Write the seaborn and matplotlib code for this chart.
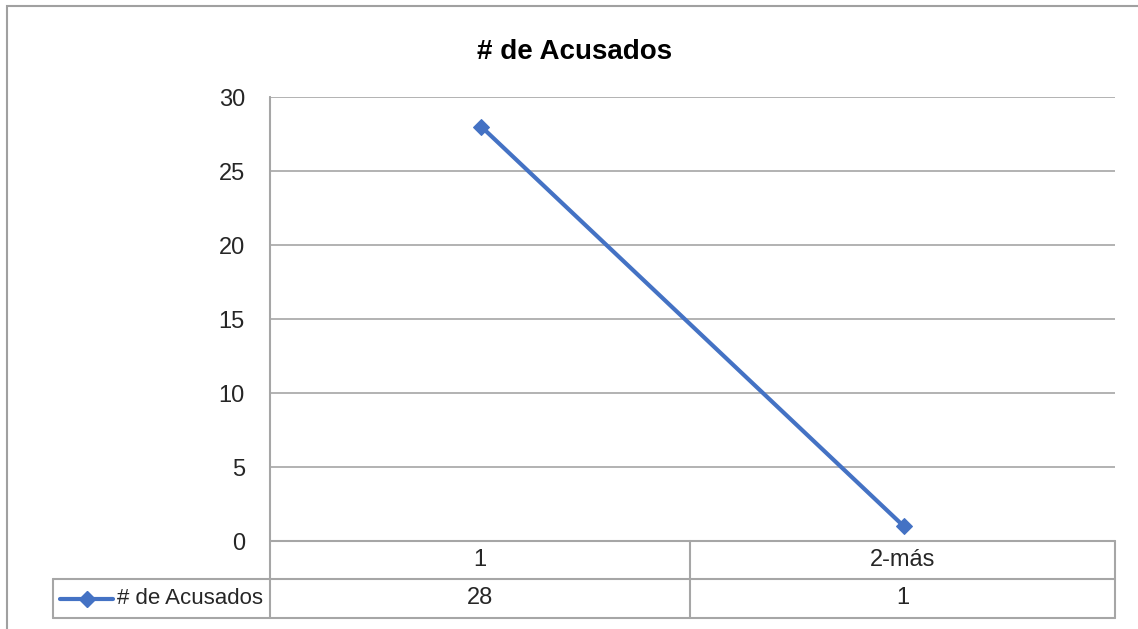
import matplotlib
matplotlib.use("Agg")
import matplotlib.pyplot as plt
from matplotlib.lines import Line2D
from matplotlib.patches import Rectangle
import seaborn as sns
import pandas as pd

categories = ["1", "2-más"]
values = [28, 1]
series_name = "# de Acusados"
title = "# de Acusados"
yticks = [0, 5, 10, 15, 20, 25, 30]

sns.set_theme(style="white")
plt.rcParams["font.family"] = ["Liberation Sans", "DejaVu Sans"]

W, H = 1138, 629
fig = plt.figure(figsize=(W / 100, H / 100), dpi=100)
fig.patch.set_facecolor("white")

def fx(px):
    return px / W

def fy(py):
    return 1 - py / H

L, R, T, B = 270, 1115, 97, 541
ax = fig.add_axes([fx(L), fy(B), fx(R) - fx(L), fy(T) - fy(B)])

df = pd.DataFrame({"cat": categories, "val": values})
blue = "#4472C4"
sns.lineplot(data=df, x="cat", y="val", ax=ax, color=blue, lw=3, marker="D",
             markersize=8, markeredgecolor=blue, sort=False)
ax.set_xlim(-0.5, len(categories) - 0.5)
ax.set_ylim(0, 30)
ax.set_yticks(yticks)
ax.set_yticklabels([str(t) for t in yticks], fontsize=17)
ax.set_xticks([])
ax.set_xlabel("")
ax.set_ylabel("")
ax.tick_params(axis="y", length=0, pad=18)
ax.grid(axis="y", color="#A6A6A6", lw=1.2)
ax.set_axisbelow(True)
for s in ["top", "right", "bottom"]:
    ax.spines[s].set_visible(False)
ax.spines["left"].set_color("#A6A6A6")
ax.spines["left"].set_linewidth(1.2)

fig.text(fx(575), fy(52), title, ha="center", va="center", fontsize=20,
         fontweight="bold", color="black")

gray = "#A6A6A6"
def hline(x0, x1, y):
    fig.add_artist(Line2D([fx(x0), fx(x1)], [fy(y), fy(y)], color=gray, lw=1.5))

def vline(x, y0, y1):
    fig.add_artist(Line2D([fx(x), fx(x)], [fy(y0), fy(y1)], color=gray, lw=1.5))

# outer chart border
fig.add_artist(Rectangle((fx(7), fy(700)), fx(1200), fy(6) - fy(700), fill=False,
                         edgecolor="#A0A0A0", lw=1.5, transform=fig.transFigure))

# data table
row1, row2, row3 = 541, 579, 618
colx = [L, 690, R]
hline(L, R, row1)
hline(53, R, row2)
hline(53, R, row3)
vline(53, row2, row3)
for x in colx:
    vline(x, row1 if x != L else T, row3)

for i, (c, v) in enumerate(zip(categories, values)):
    cx = (colx[i] + colx[i + 1]) / 2
    fig.text(fx(cx), fy((row1 + row2) / 2), c, ha="center", va="center", fontsize=17)
    fig.text(fx(cx), fy((row2 + row3) / 2), str(v), ha="center", va="center", fontsize=17)

# legend key
ky = (row2 + row3) / 2
fig.add_artist(Line2D([fx(60), fx(113)], [fy(ky), fy(ky)], color=blue, lw=3))
fig.add_artist(Line2D([fx(87)], [fy(ky)], color=blue, marker="D", markersize=8, lw=0))
fig.text(fx(263), fy(ky), series_name, ha="right", va="center", fontsize=16)

fig.savefig("out.png", dpi=100, facecolor="white")
